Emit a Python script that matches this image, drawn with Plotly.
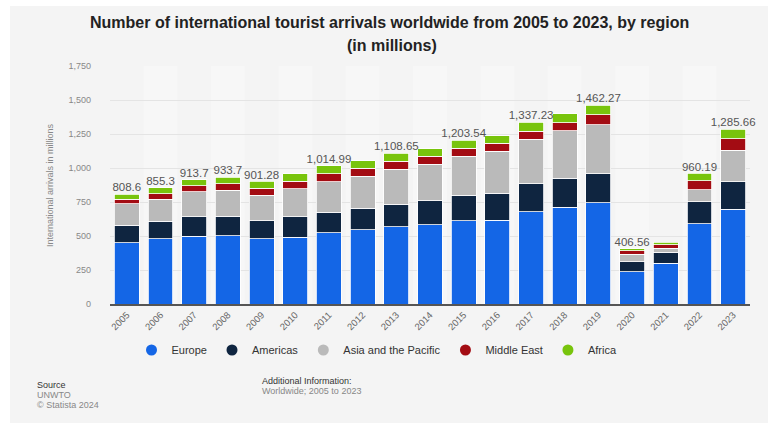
import plotly.graph_objects as go

years = [str(y) for y in range(2005, 2024)]
europe = [449, 478, 500, 502, 478, 490, 524, 546, 568, 581, 612, 617, 678, 712, 744, 236, 298, 590, 698]
americas = [131, 129, 142, 145, 134, 150, 152, 157, 165, 178, 187, 196, 207, 213, 212, 74, 82, 161, 200]
asia_pacific = [158, 165, 184, 191, 186, 208, 223, 238, 259, 270, 287, 312, 328, 348, 363, 55, 30, 89, 231]
middle_east = [34, 39, 44, 47, 52, 56, 57, 56, 57, 59, 60, 56, 58, 61, 71, 25, 26, 67, 85]
africa = [36.6, 44.3, 43.7, 48.7, 51.28, 52, 58.99, 56, 59.65, 54, 57.54, 56, 66.23, 66, 72.27, 16.56, 19, 53.19, 71.66]
label_years = ["2005", "2006", "2007", "2008", "2009", "2011", "2013", "2015", "2017", "2019", "2020", "2022", "2023"]
label_texts = ["808.6", "855.3", "913.7", "933.7", "901.28", "1,014.99", "1,108.65", "1,203.54",
               "1,337.23", "1,462.27", "406.56", "960.19", "1,285.66"]

series = [
    ("Europe", europe, "#1466e6"),
    ("Americas", americas, "#0f2540"),
    ("Asia and the Pacific", asia_pacific, "#bababa"),
    ("Middle East", middle_east, "#a30c13"),
    ("Africa", africa, "#78c40c"),
]

FONT = "Liberation Sans, Arial, sans-serif"
fig = go.Figure()
for name, vals, col in series:
    fig.add_trace(go.Bar(x=years, y=vals, name=name, marker=dict(color=col, line=dict(color="white", width=0.8)),
                         showlegend=False, hoverinfo="skip"))
for name, vals, col in series:
    fig.add_trace(go.Scatter(x=[years[0]], y=[None], mode="markers", name=name,
                             marker=dict(color=col, size=11, symbol="circle"), showlegend=True))

totals = {y: e + a + s + m + f for y, e, a, s, m, f in zip(years, europe, americas, asia_pacific, middle_east, africa)}
fig.add_trace(go.Scatter(x=label_years, y=[totals[y] for y in label_years], mode="text", text=label_texts,
                         textposition="top center", textfont=dict(family=FONT, size=11.5, color="#555555"),
                         showlegend=False, hoverinfo="skip", cliponaxis=False))

L, R, T, B = 110, 18, 66, 119
W, H = 768, 423
pw, ph = W - L - R, H - T - B

def px(x):
    return (x - L) / pw

def py(y):
    return (H - B - y) / ph

shapes = [dict(type="rect", xref="paper", yref="paper", x0=px(10), x1=px(768), y0=py(423), y1=py(6),
               fillcolor="#f4f4f4", line=dict(width=0), layer="below")]
n = len(years)
for i in range(n):
    if i % 2 == 1:
        shapes.append(dict(type="rect", xref="paper", yref="paper", x0=i / n, x1=(i + 1) / n, y0=0, y1=1,
                           fillcolor="#f7f7f7", line=dict(width=0), layer="below"))

fig.add_annotation(xref="paper", yref="paper", x=px(389), y=py(22), text="<b>Number of international tourist arrivals worldwide from 2005 to 2023, by region</b>",
                   showarrow=False, xanchor="center", yanchor="middle", font=dict(family=FONT, size=16, color="#222222"))
fig.add_annotation(xref="paper", yref="paper", x=px(392), y=py(45), text="<b>(in millions)</b>",
                   showarrow=False, xanchor="center", yanchor="middle", font=dict(family=FONT, size=16, color="#222222"))
fig.add_annotation(xref="paper", yref="paper", x=px(50), y=py(185), text="International arrivals in millions",
                   showarrow=False, textangle=-90, xanchor="center", yanchor="middle", font=dict(family=FONT, size=9, color="#888888"))
foot = [(35, 385, "Source", "#333333"), (35, 395, "UNWTO", "#888888"), (35, 405, "© Statista 2024", "#888888"),
        (260, 381, "Additional Information:", "#333333"), (260, 391, "Worldwide; 2005 to 2023", "#888888")]
for x, y, t, c in foot:
    fig.add_annotation(xref="paper", yref="paper", x=px(x), y=py(y), text=t, showarrow=False,
                       xanchor="left", yanchor="middle", font=dict(family=FONT, size=9, color=c))

fig.update_layout(
    width=W, height=H, margin=dict(l=L, r=R, t=T, b=B),
    paper_bgcolor="white", plot_bgcolor="rgba(0,0,0,0)",
    barmode="stack", bargap=0.26, shapes=shapes,
    font=dict(family=FONT, color="#666666"),
    legend=dict(orientation="h", x=px(377), xanchor="center", y=py(350), yanchor="middle",
                font=dict(family=FONT, size=11, color="#333333"), bgcolor="rgba(0,0,0,0)",
                traceorder="normal", itemwidth=30, tracegroupgap=0),
    xaxis=dict(type="category", categoryorder="array", categoryarray=years, range=[-0.5, n - 0.5],
               tickangle=-45, tickfont=dict(size=9.5, color="#666666"),
               showline=True, linecolor="#555555", linewidth=1.5, ticks="", showgrid=False),
    yaxis=dict(range=[0, 1750], dtick=250, tickformat=",", tickfont=dict(size=9, color="#888888"),
               showgrid=True, gridcolor="#e4e4e4", gridwidth=1, zeroline=False, ticklabelstandoff=18),
)
fig.write_html("out.html")
